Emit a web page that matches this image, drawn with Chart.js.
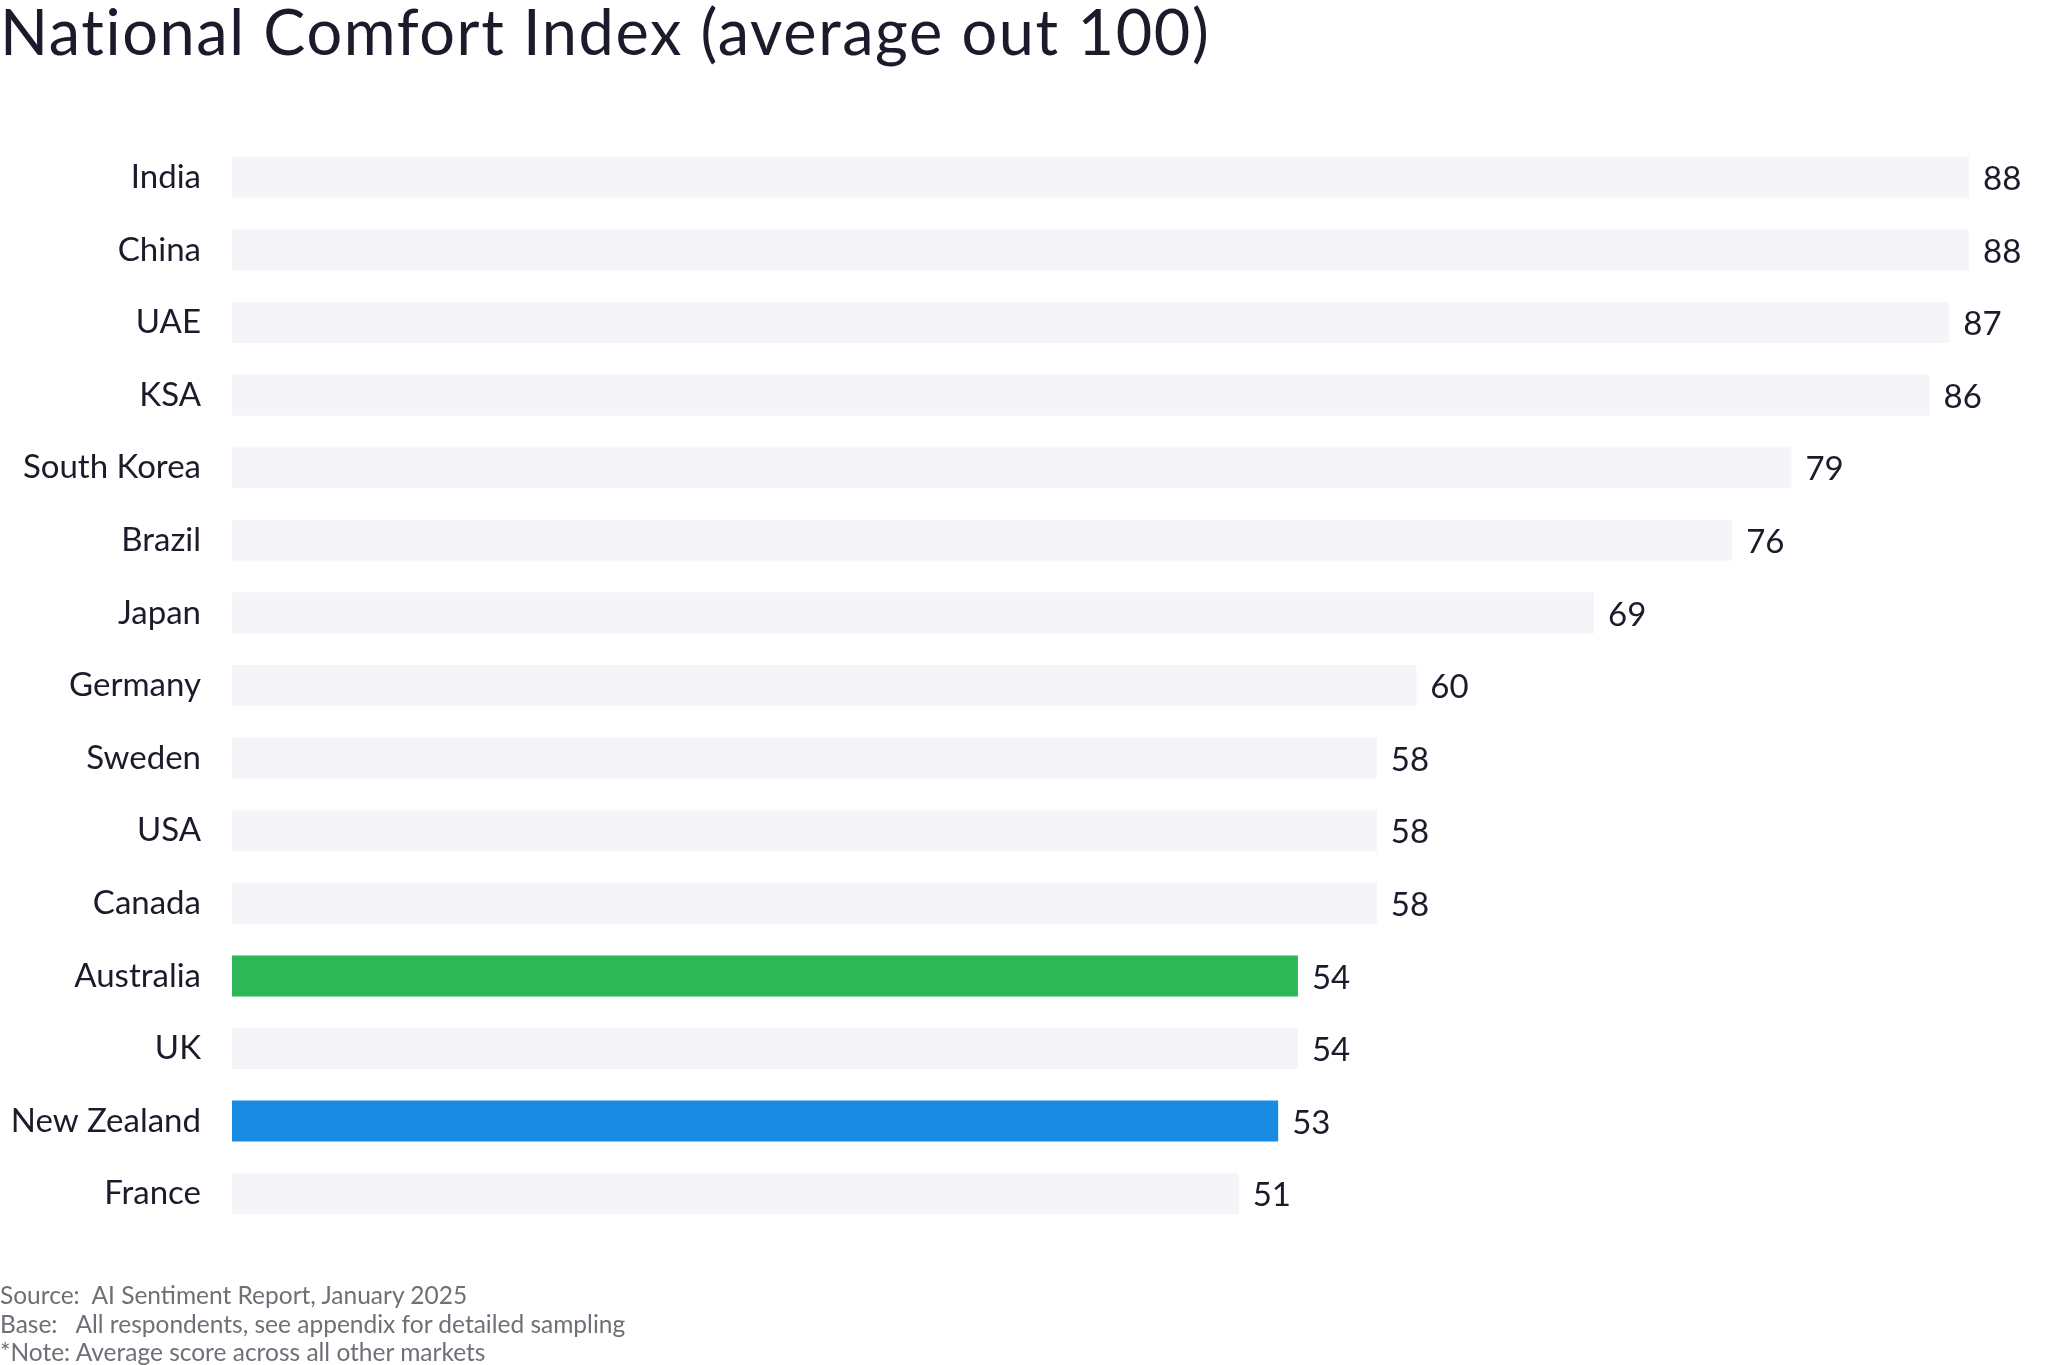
<!DOCTYPE html>
<html>
<head>
<meta charset="utf-8">
<script src="https://cdn.jsdelivr.net/npm/chart.js@4.4.1/dist/chart.umd.min.js"></script>
<style>
    body { margin: 0; background: #fff; width: 2048px; height: 1365px; overflow: hidden; font-family: Lato, "Noto Sans", sans-serif; }
    #title { position: absolute; left: 0; top: -7px; font-size: 63px; letter-spacing: 1.6px; color: #1b1b2b; white-space: nowrap; }
    #wrap { position: absolute; left: 0; top: 0; width: 2048px; height: 1365px; }
    #notes { position: absolute; left: 0; top: 1281px; font-size: 24.5px; line-height: 28.5px; color: #6f6f78; white-space: pre; }
</style>
</head>
<body>
<div id="title">National Comfort Index (average out 100)</div>
<div id="wrap"><canvas id="chart"></canvas></div>
<div id="notes">Source:  AI Sentiment Report, January 2025
Base:   All respondents, see appendix for detailed sampling
*Note: Average score across all other markets</div>
<script>
const countries = ["India", "China", "UAE", "KSA", "South Korea", "Brazil", "Japan", "Germany",
    "Sweden", "USA", "Canada", "Australia", "UK", "New Zealand", "France"];
const scores = [88, 88, 87, 86, 79, 76, 69, 60, 58, 58, 58, 54, 54, 53, 51];

// highlighted markets, everything else gets the pale bar
const highlight = { "Australia": "#2db757", "New Zealand": "#1a8be3" };
const barColors = countries.map(c => highlight[c] || "#f4f4f9");

// value labels at the end of each bar
const valueLabels = {
    id: "valueLabels",
    afterDatasetsDraw(chart) {
        const ctx = chart.ctx;
        const meta = chart.getDatasetMeta(0);
        ctx.save();
        ctx.font = "33px Lato, 'Noto Sans', sans-serif";
        ctx.fillStyle = "#1b1b2b";
        ctx.textAlign = "left";
        ctx.textBaseline = "middle";
        meta.data.forEach((bar, i) => {
            ctx.fillText(scores[i], bar.x + 14, bar.y + 2);
        });
        ctx.restore();
    }
};

new Chart(document.getElementById("chart"), {
    type: "bar",
    data: {
        labels: countries,
        datasets: [{
            data: scores,
            backgroundColor: barColors,
            borderWidth: 0,
            barPercentage: 0.565,
            categoryPercentage: 1
        }]
    },
    options: {
        indexAxis: "y",
        responsive: true,
        maintainAspectRatio: false,
        animation: false,
        layout: { padding: { top: 141, bottom: 135, left: 0, right: 0 } },
        plugins: {
            legend: { display: false },
            tooltip: { enabled: false }
        },
        scales: {
            x: {
                display: false,
                min: 0,
                max: 92
            },
            y: {
                grid: { display: false, drawTicks: false },
                border: { display: false },
                ticks: {
                    padding: 31,
                    color: "#1b1b2b",
                    font: { family: "Lato, 'Noto Sans', sans-serif", size: 33 }
                },
                afterFit(scale) { scale.width = 232; }
            }
        }
    },
    plugins: [valueLabels]
});
</script>
</body>
</html>
